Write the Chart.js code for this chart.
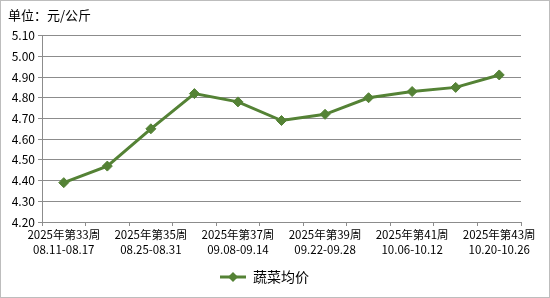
<!DOCTYPE html>
<html>
<head>
<meta charset="utf-8">
<script src="https://cdn.jsdelivr.net/npm/chart.js@4"></script>
<style>
html,body{margin:0;padding:0;background:#fff;}
#wrap{width:550px;height:298px;position:relative;}
</style>
</head>
<body>
<div id="wrap"><canvas id="c" width="550" height="298"></canvas></div>
<script>
const weeks = ['2025年第33周','2025年第34周','2025年第35周','2025年第36周','2025年第37周','2025年第38周','2025年第39周','2025年第40周','2025年第41周','2025年第42周','2025年第43周'];
const dateRanges = ['08.11-08.17','08.18-08.24','08.25-08.31','09.01-09.07','09.08-09.14','09.15-09.21','09.22-09.28','09.29-10.05','10.06-10.12','10.13-10.19','10.20-10.26'];
const vegPrice = [4.39, 4.47, 4.65, 4.82, 4.78, 4.69, 4.72, 4.80, 4.83, 4.85, 4.91];
const seriesName = '蔬菜均价';
const titleText = '单位：元/公斤';

const FONT = '"Noto Sans CJK SC", "DejaVu Sans", sans-serif';
const GREEN = '#548235';
const GRID = '#8c8c8c';

const labels = weeks.map((w, i) => [w, dateRanges[i]]);

// legend icon: line with diamond
const icon = document.createElement('canvas');
icon.width = 26; icon.height = 12;
(function(){
  const g = icon.getContext('2d');
  g.strokeStyle = GREEN; g.lineWidth = 3;
  g.beginPath(); g.moveTo(0, 6); g.lineTo(26, 6); g.stroke();
  g.fillStyle = GREEN;
  g.beginPath(); g.moveTo(13, 1); g.lineTo(18, 6); g.lineTo(13, 11); g.lineTo(8, 6); g.closePath(); g.fill();
})();

const borderPlugin = {
  id: 'outerBorder',
  beforeDraw(chart) {
    const ctx = chart.ctx;
    ctx.save();
    ctx.fillStyle = '#fff';
    ctx.fillRect(0, 0, chart.width, chart.height);
    ctx.restore();
  },
  afterDraw(chart) {
    const ctx = chart.ctx;
    ctx.save();
    ctx.strokeStyle = '#bdbdbd';
    ctx.lineWidth = 1;
    ctx.strokeRect(0.5, 0.5, chart.width - 1, chart.height - 1);
    ctx.restore();
  }
};

new Chart(document.getElementById('c'), {
  type: 'line',
  data: {
    labels: labels,
    datasets: [{
      label: seriesName,
      data: vegPrice,
      borderColor: GREEN,
      backgroundColor: GREEN,
      borderWidth: 3,
      pointStyle: 'rectRot',
      pointRadius: 5,
      pointHoverRadius: 5,
      pointBackgroundColor: GREEN,
      pointBorderColor: GREEN,
      pointBorderWidth: 1,
      tension: 0,
      fill: false
    }]
  },
  options: {
    responsive: false,
    animation: false,
    devicePixelRatio: 1,
    layout: { padding: { left: 8, right: 29, top: 0, bottom: 4 } },
    plugins: {
      title: {
        display: true,
        text: titleText,
        align: 'start',
        color: '#000',
        font: { family: FONT, size: 13, weight: 'normal', lineHeight: 1.2 },
        padding: { top: 7, bottom: 13 }
      },
      legend: {
        display: true,
        position: 'bottom',
        labels: {
          color: '#000',
          font: { family: FONT, size: 14 },
          usePointStyle: true,
          pointStyle: icon,
          pointStyleWidth: 26,
          boxHeight: 12,
          padding: 10
        }
      },
      tooltip: { enabled: false }
    },
    scales: {
      x: {
        type: 'category',
        offset: true,
        grid: {
          display: true,
          drawOnChartArea: false,
          drawTicks: true,
          tickLength: 4,
          color: GRID,
          offset: true
        },
        border: { display: true, color: GRID, width: 1 },
        ticks: {
          autoSkip: false,
          maxRotation: 0,
          minRotation: 0,
          padding: 1,
          color: '#000',
          font: { family: FONT, size: 11.5, lineHeight: 1.3 },
          callback: function(value, index) {
            return index % 2 === 0 ? this.getLabelForValue(value) : '';
          }
        },
        afterFit(scale) { scale.height = 38; }
      },
      y: {
        min: 4.2,
        max: 5.1,
        grid: {
          color: GRID,
          tickLength: 4,
          drawTicks: true
        },
        border: { display: true, color: GRID, width: 1 },
        ticks: {
          stepSize: 0.1,
          padding: 3,
          color: '#000',
          font: { family: FONT, size: 12 },
          callback: v => Number(v).toFixed(2)
        },
        afterFit(scale) { scale.width = 34; }
      }
    }
  },
  plugins: [borderPlugin]
});
</script>
</body>
</html>
